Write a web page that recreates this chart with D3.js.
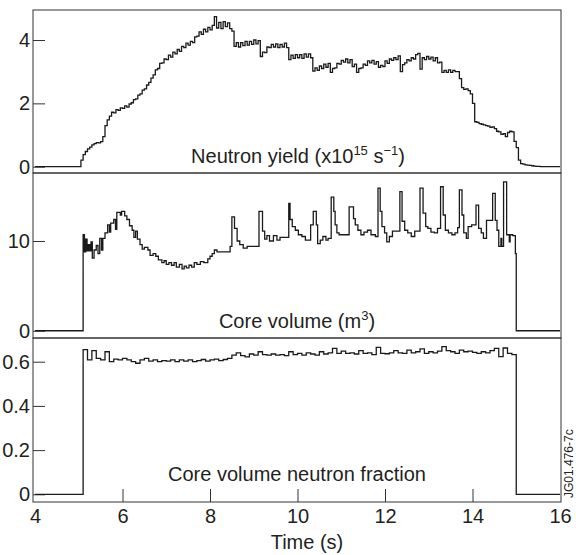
<!DOCTYPE html>
<html>
<head>
<meta charset="utf-8">
<script src="https://cdn.jsdelivr.net/npm/d3@7"></script>
<style>
  body { margin: 0; background: #fff; }
  svg text { font-family: "Liberation Sans", Arial, Helvetica, sans-serif; fill: #231f20; }
</style>
</head>
<body>
<div id="chart"></div>
<script>
// Neutron yield (x10^15 /s), sampled every 0.05 s from 5.00 s
const yieldStart = 5.0;
const yieldStep = 0.05;
const yieldValues = [
  0, 0.21, 0.38, 0.48, 0.56, 0.62, 0.69, 0.73, 0.76, 0.75,
  0.79, 0.95, 1.30, 1.48, 1.60, 1.72, 1.70, 1.80, 1.78, 1.86,
  1.84, 1.92, 1.88, 1.98, 2.02, 2.12, 2.14, 2.26, 2.30, 2.42,
  2.46, 2.58, 2.66, 2.80, 2.90, 3.06, 3.10, 3.26, 3.28, 3.40,
  3.38, 3.52, 3.46, 3.62, 3.56, 3.70, 3.64, 3.80, 3.76, 3.90,
  3.84, 3.96, 3.92, 4.10, 4.12, 4.26, 4.18, 4.34, 4.26, 4.40,
  4.32, 4.46, 4.74, 4.38, 4.56, 4.36, 4.58, 4.42, 4.54, 4.36,
  4.28, 3.80, 3.92, 3.78, 3.92, 3.82, 3.96, 3.84, 3.96, 3.86,
  4.00, 3.88, 3.98, 3.48, 3.62, 3.60, 3.78, 3.76, 3.86, 3.78,
  3.88, 3.76, 3.86, 3.78, 3.90, 3.76, 3.38, 3.52, 3.42, 3.54,
  3.44, 3.54, 3.42, 3.56, 3.46, 3.56, 3.44, 3.02, 3.12, 3.04,
  3.18, 3.10, 3.24, 3.14, 3.26, 2.98, 3.10, 3.12, 3.26, 3.24,
  3.36, 3.30, 3.40, 3.28, 3.38, 3.16, 3.24, 2.98, 3.10, 3.12,
  3.24, 3.20, 3.34, 3.28, 3.36, 3.24, 3.32, 3.14, 3.20, 3.16,
  3.34, 3.26, 3.40, 3.36, 3.44, 3.38, 3.50, 3.00, 3.22, 3.28,
  3.38, 3.34, 3.44, 3.40, 3.54, 3.58, 3.08, 3.44, 3.38, 3.48,
  3.40, 3.46, 3.34, 3.44, 3.28, 3.30, 2.98, 3.04, 2.98, 3.06,
  2.98, 3.04, 3.00, 3.00, 2.78, 2.50, 2.44, 2.46, 2.40, 2.30,
  2.00, 1.42, 1.40, 1.36, 1.34, 1.32, 1.30, 1.28, 1.24, 1.26,
  1.20, 1.12, 1.10, 1.02, 1.04, 0.95, 1.08, 1.12, 1.10, 0.80,
  0.60, 0.21, 0.10, 0.08, 0.06, 0.05, 0.04, 0.03, 0.02, 0.01,
  0.01, 0
];

// Core volume (m^3), step changes
const volumeTimes = [
  4.0, 5.1, 5.13, 5.16, 5.19, 5.22, 5.25, 5.28, 5.31, 5.35, 5.4, 5.44, 5.48, 5.52, 5.55,
  5.6, 5.66, 5.7, 5.73, 5.8, 5.84, 5.87, 5.95, 5.98, 6.05, 6.1, 6.16, 6.22, 6.26, 6.3,
  6.34, 6.4, 6.45, 6.5, 6.58, 6.63, 6.7, 6.76, 6.82, 6.9, 6.95, 7.0, 7.06, 7.12, 7.18,
  7.23, 7.3, 7.36, 7.41, 7.46, 7.52, 7.58, 7.64, 7.7, 7.78, 7.86, 7.95, 8.0, 8.05, 8.1,
  8.16, 8.46, 8.5, 8.56, 8.62, 8.68, 8.76, 8.85, 9.12, 9.2, 9.25, 9.3, 9.36, 9.45, 9.53,
  9.6, 9.8, 9.83, 9.88, 9.95, 10.02, 10.1, 10.18, 10.3, 10.36, 10.43, 10.46, 10.52, 10.58, 10.65,
  10.7, 10.77, 10.83, 10.86, 10.9, 10.95, 11.18, 11.28, 11.32, 11.38, 11.45, 11.52, 11.6, 11.68, 11.78,
  11.84, 11.89, 11.93, 11.99, 12.04, 12.1, 12.17, 12.34, 12.39, 12.45, 12.52, 12.6, 12.68, 12.8, 12.87,
  12.93, 12.98, 13.05, 13.13, 13.2, 13.27, 13.33, 13.38, 13.45, 13.53, 13.6, 13.66, 13.7, 13.76, 13.8,
  13.86, 13.9, 13.98, 14.08, 14.14, 14.2, 14.25, 14.32, 14.46, 14.52, 14.56, 14.6, 14.65, 14.67, 14.71,
  14.78, 14.84, 14.86, 14.92, 14.98, 15.0, 16.0
];
const volumeValues = [
  0, 10.7, 8.8, 10.2, 8.9, 9.6, 8.9, 9.9, 8.1, 9.0, 9.5, 8.6, 10.3, 9.0, 10.3,
  10.9, 11.8, 11.0, 12.0, 12.4, 11.3, 13.2, 12.9, 13.3, 12.8, 12.4, 11.7, 11.2, 10.4, 11.1,
  10.2, 9.6, 9.1, 9.3, 9.0, 8.4, 8.6, 8.3, 7.9, 7.6, 7.8, 7.4, 7.6, 7.3, 7.6,
  7.1, 7.4, 6.9, 7.2, 7.0, 7.3, 7.1, 7.6, 7.4, 7.7, 7.6, 8.0, 8.3, 8.6, 9.0,
  8.8, 9.4, 12.7, 11.4, 10.0, 9.6, 9.2, 9.4, 13.3, 11.1, 10.2, 10.6, 10.0, 10.6, 10.1,
  10.4, 14.2, 12.4, 11.6, 11.2, 10.7, 10.5, 10.1, 11.8, 13.3, 11.8, 9.7, 10.1, 10.5, 10.1,
  10.3, 14.9, 13.3, 11.8, 10.9, 10.7, 13.8, 12.5, 11.8, 11.2, 10.7, 11.0, 11.2, 10.7, 10.5,
  15.9, 13.3, 11.6, 10.9, 9.9, 10.5, 11.1, 15.5, 12.2, 11.2, 10.9, 10.5, 11.1, 15.9, 13.1,
  11.6, 11.4, 11.0, 10.9, 11.4, 16.05, 12.9, 11.2, 10.9, 10.7, 10.9, 11.5, 15.7, 12.9, 10.9,
  10.3, 11.6, 11.8, 14.0, 11.4, 10.9, 10.3, 12.3, 15.3, 12.3, 11.2, 9.4, 10.3, 9.4, 16.6,
  10.7, 9.9, 10.7, 10.6, 8.6, 0, 0
];

// Core volume neutron fraction, sampled every 0.1 s from 5.1 s to 14.9 s
const fractionStart = 5.1;
const fractionStep = 0.1;
const fractionValues = [
  0.655, 0.608, 0.650, 0.615, 0.608, 0.645, 0.600, 0.612, 0.608, 0.615,
  0.608, 0.600, 0.593, 0.608, 0.615, 0.603, 0.608, 0.600, 0.605, 0.603,
  0.608, 0.600, 0.608, 0.603, 0.608, 0.600, 0.605, 0.610, 0.603, 0.608,
  0.612, 0.605, 0.610, 0.615, 0.630, 0.640, 0.628, 0.622, 0.635, 0.630,
  0.645, 0.632, 0.630, 0.635, 0.630, 0.632, 0.628, 0.645, 0.632, 0.638,
  0.630, 0.640, 0.635, 0.630, 0.645, 0.635, 0.640, 0.660, 0.638, 0.648,
  0.638, 0.640, 0.635, 0.650, 0.638, 0.640, 0.632, 0.665, 0.638, 0.636,
  0.640, 0.650, 0.640, 0.638, 0.652, 0.640, 0.645, 0.658, 0.638, 0.645,
  0.640, 0.648, 0.668, 0.650, 0.645, 0.638, 0.652, 0.645, 0.648, 0.642,
  0.638, 0.645, 0.640, 0.650, 0.660, 0.623, 0.662, 0.638, 0.632
];

const timeTicks = [4, 6, 8, 10, 12, 14, 16];
const yieldTicks = [0, 2, 4];
const volumeTicks = [0, 10];
const fractionTicks = [0, 0.2, 0.4, 0.6];

// build point lists
const yieldData = [{ t: 4, v: 0 }]
  .concat(yieldValues.map((v, i) => ({ t: yieldStart + i * yieldStep, v: v })))
  .concat([{ t: 16, v: 0 }]);
const volumeData = volumeTimes.map((t, i) => ({ t: t, v: volumeValues[i] }));
const fractionData = [{ t: 4, v: 0 }]
  .concat(fractionValues.map((v, i) => ({ t: fractionStart + i * fractionStep, v: v })))
  .concat([{ t: 15.0, v: 0 }, { t: 16, v: 0 }]);

const width = 576, height = 555;
const left = 33, right = 561;

const svg = d3.select('#chart').append('svg')
  .attr('width', width)
  .attr('height', height);

const x = d3.scaleLinear().domain([4, 16]).range([35, 560]);

// three stacked panels
const panels = [
  { top: 10, bottom: 173, domain: [-0.199, 4.948], ticks: yieldTicks, data: yieldData, fmt: d => d },
  { top: 173, bottom: 338, domain: [-0.81, 17.58], ticks: volumeTicks, data: volumeData, fmt: d => d },
  { top: 338, bottom: 502, domain: [-0.0348, 0.7073], ticks: fractionTicks, data: fractionData, fmt: d => d === 0 ? '0' : d3.format('.1f')(d) }
];

panels.forEach((p, i) => {
  const y = d3.scaleLinear().domain(p.domain).range([p.bottom, p.top]);

  // y axis with inward ticks
  const ax = svg.append('g')
    .attr('transform', `translate(${left},0)`)
    .call(d3.axisLeft(y).tickValues(p.ticks).tickFormat(p.fmt).tickSizeInner(-12).tickSizeOuter(0).tickPadding(3));
  ax.select('.domain').remove();
  ax.selectAll('line').attr('stroke', '#333');
  ax.selectAll('text').attr('font-size', 20).style('font-family', '"Liberation Sans", Arial, sans-serif').attr('fill', '#231f20');

  // trace
  const line = d3.line()
    .x(d => x(d.t))
    .y(d => y(d.v))
    .curve(d3.curveStepAfter);
  svg.append('path')
    .datum(p.data)
    .attr('fill', 'none')
    .attr('stroke', '#1a1a1a')
    .attr('stroke-width', 1.3)
    .attr('d', line);

  // frame
  svg.append('rect')
    .attr('x', left)
    .attr('y', p.top)
    .attr('width', right - left)
    .attr('height', p.bottom - p.top)
    .attr('fill', 'none')
    .attr('stroke', '#333')
    .attr('stroke-width', 1);
});

// time axis at the bottom
const xa = svg.append('g')
  .attr('transform', 'translate(0,502)')
  .call(d3.axisBottom(x).tickValues(timeTicks).tickFormat(d => d).tickSizeInner(-13).tickSizeOuter(0).tickPadding(7));
xa.select('.domain').remove();
xa.selectAll('.tick line').attr('stroke', '#333')
  .filter(d => d === 4 || d === 16).remove();
xa.selectAll('text').attr('font-size', 20).style('font-family', '"Liberation Sans", Arial, sans-serif').attr('fill', '#231f20');

svg.append('text')
  .attr('x', 307)
  .attr('y', 549)
  .attr('text-anchor', 'middle')
  .attr('font-size', 20)
  .text('Time (s)');

// panel titles
const t1 = svg.append('text')
  .attr('x', 298)
  .attr('y', 163)
  .attr('text-anchor', 'middle')
  .attr('font-size', 20);
t1.append('tspan').text('Neutron yield (x10');
t1.append('tspan').attr('font-size', 13).attr('dy', -8).text('15');
t1.append('tspan').attr('dy', 8).text(' s');
t1.append('tspan').attr('font-size', 13).attr('dy', -8).text('\u22121');
t1.append('tspan').attr('dy', 8).text(')');

const t2 = svg.append('text')
  .attr('x', 297)
  .attr('y', 328)
  .attr('text-anchor', 'middle')
  .attr('font-size', 20);
t2.append('tspan').text('Core volume (m');
t2.append('tspan').attr('font-size', 13).attr('dy', -8).text('3');
t2.append('tspan').attr('dy', 8).text(')');

svg.append('text')
  .attr('x', 297)
  .attr('y', 481)
  .attr('text-anchor', 'middle')
  .attr('font-size', 20)
  .text('Core volume neutron fraction');

// figure reference code
svg.append('text')
  .attr('transform', 'translate(573,498) rotate(-90)')
  .attr('font-size', 12)
  .attr('fill', '#444')
  .text('JG01.476-7c');
</script>
</body>
</html>
